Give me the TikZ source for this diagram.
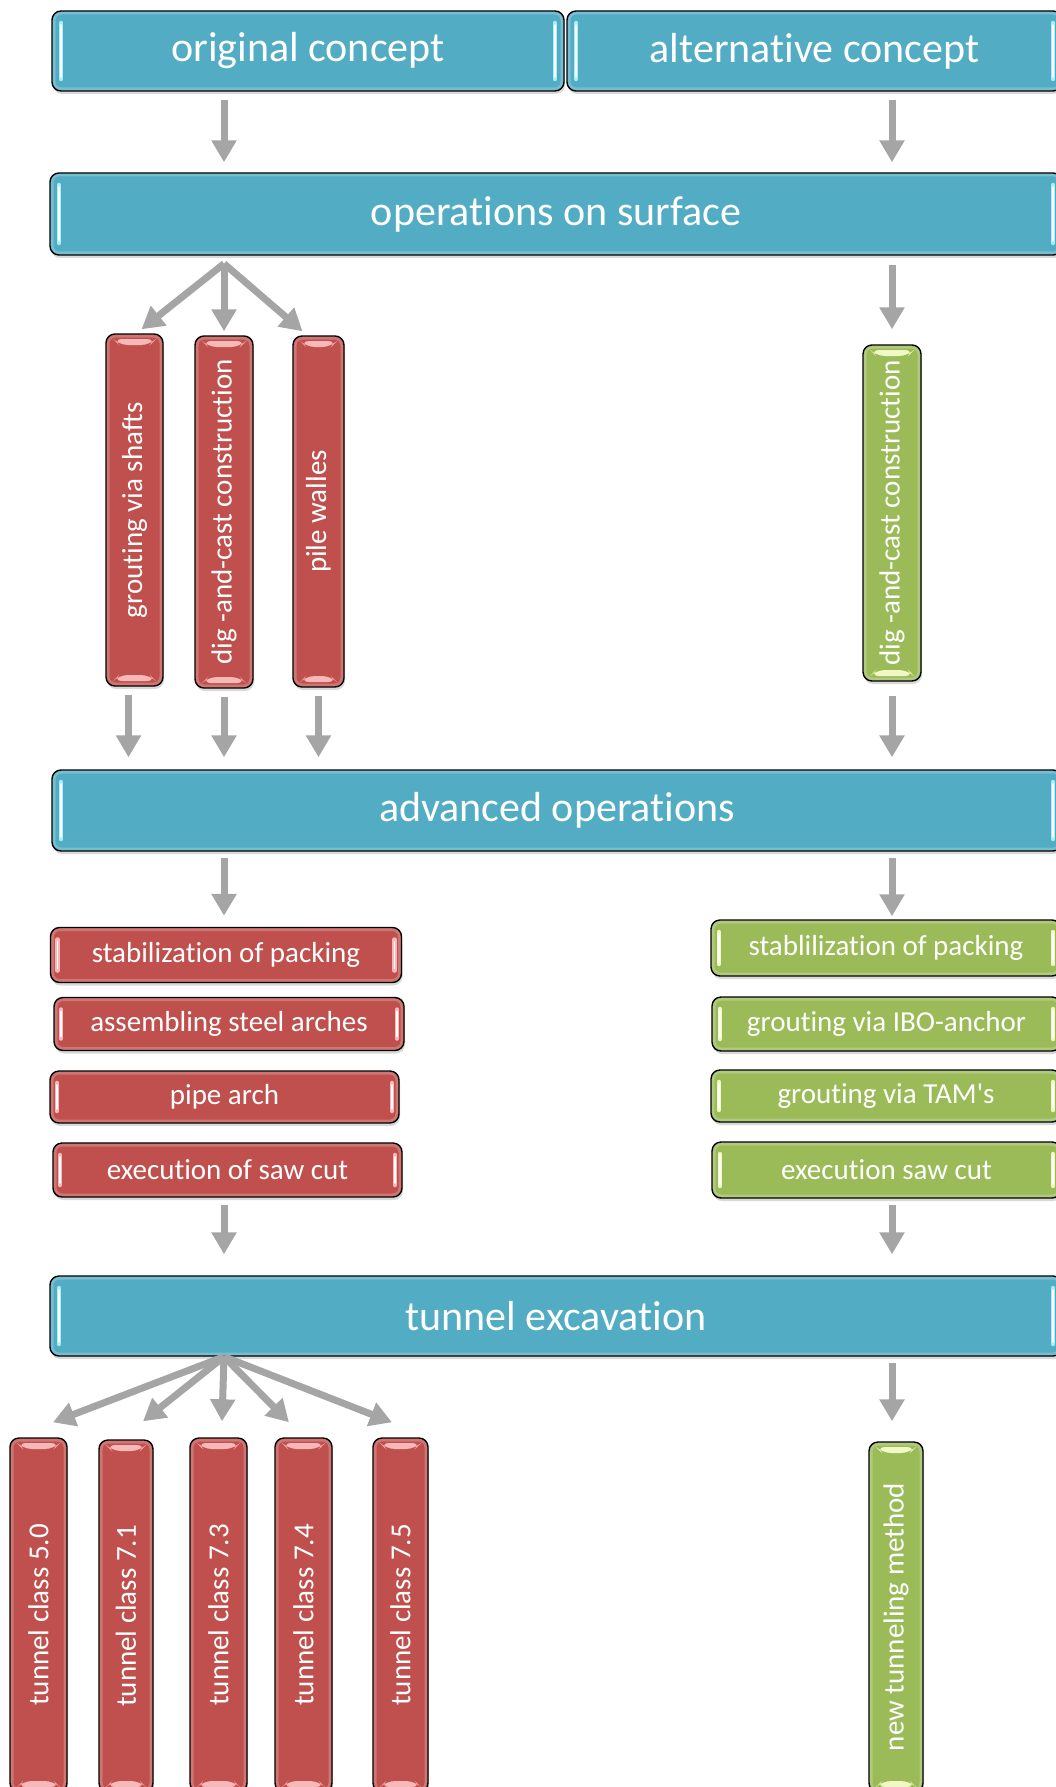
\documentclass[tikz,border=0pt]{standalone}
\usepackage{fontspec}
\setmainfont[Ligatures=NoCommon]{Carlito}
\usetikzlibrary{arrows.meta,shadows}

\definecolor{boxblue}{HTML}{52ACC3}
\definecolor{boxred}{HTML}{C0504D}
\definecolor{boxgreen}{HTML}{9BBB59}
\definecolor{arrgray}{HTML}{A5A5A5}
\definecolor{glintblue}{HTML}{A8EEFA}
\definecolor{glintred}{HTML}{F7B9B7}
\definecolor{glintgreen}{HTML}{F0F9C6}

\newcommand{\bigtext}{\fontsize{42}{50}\selectfont}
\newcommand{\smalltext}{\fontsize{29}{34}\selectfont}

\tikzset{
  box/.style={draw=black, line width=1.4pt, rounded corners=9pt, text=white, inner sep=0pt,
    drop shadow={shadow xshift=1pt, shadow yshift=-3pt, opacity=.3}},
  hglint/.style n args={2}{path picture={
    \draw[white, opacity=.22, line width=7pt, rounded corners=9pt]
      (path picture bounding box.north west) rectangle (path picture bounding box.south east);
    \foreach \side/\dir in {west/1,east/-1}{
      \draw[#1, line width=4.5pt, line cap=round]
        ([xshift=\dir*#2,yshift=-12pt]path picture bounding box.north \side) --
        ([xshift=\dir*#2,yshift=12pt]path picture bounding box.south \side);
      \draw[white, line width=1.4pt, line cap=round]
        ([xshift=\dir*#2,yshift=-14pt]path picture bounding box.north \side) --
        ([xshift=\dir*#2,yshift=14pt]path picture bounding box.south \side);}}},
  vglint/.style={path picture={
    \draw[white, opacity=.22, line width=7pt, rounded corners=9pt]
      (path picture bounding box.north west) rectangle (path picture bounding box.south east);
    \fill[#1] ([xshift=7pt,yshift=-5pt]path picture bounding box.north west) --
      ([xshift=-7pt,yshift=-5pt]path picture bounding box.north east) --
      ([xshift=-13pt,yshift=-11pt]path picture bounding box.north east) --
      ([xshift=13pt,yshift=-11pt]path picture bounding box.north west) -- cycle;
    \fill[#1] ([xshift=7pt,yshift=5pt]path picture bounding box.south west) --
      ([xshift=-7pt,yshift=5pt]path picture bounding box.south east) --
      ([xshift=-13pt,yshift=11pt]path picture bounding box.south east) --
      ([xshift=13pt,yshift=11pt]path picture bounding box.south west) -- cycle;}},
  stage/.style={box, fill=boxblue, hglint={glintblue}{9pt}, font=\bigtext},
  redtask/.style={box, fill=boxred, hglint={glintred}{7pt}, font=\smalltext},
  greentask/.style={box, fill=boxgreen, hglint={glintgreen}{8pt}, font=\smalltext},
  redbar/.style={box, fill=boxred, vglint=glintred, font=\smalltext},
  greenbar/.style={box, fill=boxgreen, vglint=glintgreen, font=\smalltext},
  arr/.style={draw=arrgray, line width=7pt, -{Triangle[width=24pt,length=22pt]}}
}

\begin{document}
\begin{tikzpicture}[x=1pt,y=-1pt]
  \useasboundingbox (0,0) rectangle (1056,1787);
  \clip (0,0) rectangle (1056,1787);

  \node[stage, minimum width=512pt, minimum height=80pt] (orig) at (308,51) {original concept};
  \node[stage, minimum width=495pt, minimum height=80pt] (alt) at (814.5,51) {alternative concept};
  \node[stage, minimum width=1012pt, minimum height=82pt] (surface) at (556,214) {operations on surface};

  \node[redbar, minimum width=57pt, minimum height=352pt] (gsh) at (134.5,510) {\rotatebox{90}{grouting via shafts}};
  \node[redbar, minimum width=58pt, minimum height=352pt] (digA) at (224,512) {\rotatebox{90}{dig -and-cast construction}};
  \node[redbar, minimum width=51pt, minimum height=351pt] (pile) at (318.5,511.5) {\rotatebox{90}{pile walles}};
  \node[greenbar, minimum width=58pt, minimum height=336pt] (digB) at (892,513) {\rotatebox{90}{dig -and-cast construction}};

  \node[stage, minimum width=1010pt, minimum height=81pt] (adv) at (557,810.5) {advanced operations};

  \node[redtask, minimum width=351pt, minimum height=55pt] (stabA) at (226,955) {stabilization of packing};
  \node[redtask, minimum width=350pt, minimum height=53pt] (steel) at (229,1024) {assembling steel arches};
  \node[redtask, minimum width=349pt, minimum height=52pt] (pipe) at (224.5,1097) {pipe arch};
  \node[redtask, minimum width=349pt, minimum height=54pt] (sawA) at (227.5,1170) {execution of saw cut};

  \node[greentask, minimum width=350pt, minimum height=56pt] (stabB) at (886,948) {stablilization of packing};
  \node[greentask, minimum width=349pt, minimum height=54pt] (ibo) at (886.5,1024) {grouting via IBO-anchor};
  \node[greentask, minimum width=350pt, minimum height=52pt] (tam) at (886,1096) {grouting via TAM\textquotesingle s};
  \node[greentask, minimum width=349pt, minimum height=56pt] (sawB) at (886.5,1170) {execution saw cut};

  \node[stage, minimum width=1012pt, minimum height=80pt] (excav) at (556,1316) {tunnel excavation};

  \node[redbar, minimum width=57pt, minimum height=354pt] (tc50) at (38.5,1615) {\rotatebox{90}{tunnel class 5.0}};
  \node[redbar, minimum width=54pt, minimum height=352pt] (tc71) at (126,1616) {\rotatebox{90}{tunnel class 7.1}};
  \node[redbar, minimum width=57pt, minimum height=354pt] (tc73) at (218.5,1615) {\rotatebox{90}{tunnel class 7.3}};
  \node[redbar, minimum width=57pt, minimum height=354pt] (tc74) at (303.5,1615) {\rotatebox{90}{tunnel class 7.4}};
  \node[redbar, minimum width=55pt, minimum height=354pt] (tc75) at (400.5,1615) {\rotatebox{90}{tunnel class 7.5}};
  \node[greenbar, minimum width=54pt, minimum height=350pt] (ntm) at (896,1617) {\rotatebox{90}{new tunneling method}};

  \coordinate (fanA) at ([yshift=-8pt]surface.south -| digA);
  \coordinate (fanB) at (excav.south -| digA);

  \draw[arr, shorten <=8pt, shorten >=10pt] (orig.south -| digA) -- (surface.north -| digA);
  \draw[arr, shorten <=8pt, shorten >=10pt] (alt.south -| digB) -- (surface.north -| digB);

  \draw[arr] (fanA) -- ([xshift=7pt,yshift=4pt]gsh.north);
  \draw[arr] (fanA) -- ([yshift=4pt]digA.north);
  \draw[arr] (fanA) -- ([xshift=-16pt,yshift=4pt]pile.north);
  \draw[arr, shorten <=9pt, shorten >=15pt] (surface.south -| digB) -- (digB.north);

  \draw[arr, shorten <=8pt, shorten >=12pt] ([xshift=-6pt]gsh.south) -- ([xshift=-6pt]gsh.south |- adv.north);
  \draw[arr, shorten <=8pt, shorten >=12pt] (digA.south) -- (adv.north -| digA);
  \draw[arr, shorten <=8pt, shorten >=12pt] (pile.south) -- (adv.north -| pile);
  \draw[arr, shorten <=14pt, shorten >=12pt] (digB.south) -- (adv.north -| digB);

  \draw[arr, shorten <=6pt, shorten >=11pt] (adv.south -| digA) -- (stabA.north -| digA);
  \draw[arr, shorten <=6pt, shorten >=3pt] (adv.south -| digB) -- (stabB.north -| digB);

  \draw[arr, shorten <=7pt, shorten >=21pt] (sawA.south -| digA) -- (excav.north -| digA);
  \draw[arr, shorten <=6pt, shorten >=21pt] (sawB.south -| digB) -- (excav.north -| digB);

  \draw[arr] (fanB) -- ([xshift=14.5pt,yshift=15pt]tc50.north);
  \draw[arr] (fanB) -- ([xshift=17pt,yshift=18pt]tc71.north);
  \draw[arr] (fanB) -- ([xshift=3.5pt,yshift=16pt]tc73.north);
  \draw[arr] (fanB) -- ([xshift=-14.5pt,yshift=15pt]tc74.north);
  \draw[arr] (fanB) -- ([xshift=-8.5pt,yshift=15pt]tc75.north);
  \draw[arr, shorten <=6pt, shorten >=20pt] (excav.south -| digB) -- (ntm.north -| digB);
\end{tikzpicture}
\end{document}
